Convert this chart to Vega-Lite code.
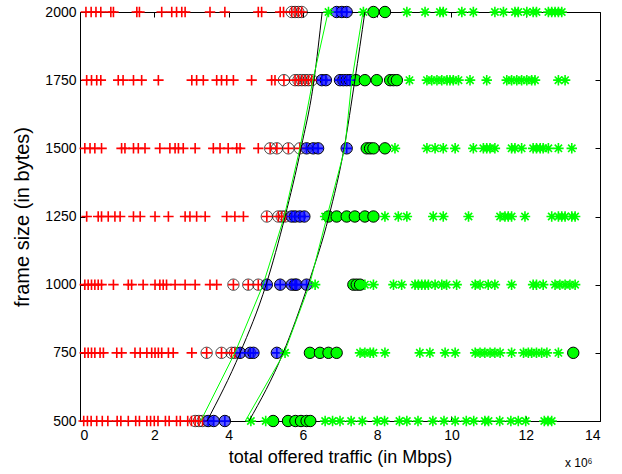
{
"$schema":"https://vega.github.io/schema/vega-lite/v6.json",
"width":520,"height":409,
"autosize":{"type":"none"},
"padding":{"left":80,"top":12,"right":22,"bottom":53},
"background":"white",
"config":{"view":{"stroke":"black","strokeWidth":1},"font":"Liberation Sans"},
"title":{"text":"x 10⁶","orient":"bottom","anchor":"end","offset":-8,"dx":-8,"fontSize":12,"fontWeight":"normal","font":"Liberation Sans","color":"black"},
"datasets":{
"pts":[
{"y":2000,"c":"red","x":0.16},{"y":2000,"c":"red","x":0.30},{"y":2000,"c":"red","x":0.43},{"y":2000,"c":"red","x":0.56},{"y":2000,"c":"red","x":0.83},{"y":2000,"c":"red","x":0.90},{"y":2000,"c":"red","x":1.53},{"y":2000,"c":"red","x":1.60},{"y":2000,"c":"red","x":2.20},{"y":2000,"c":"red","x":2.47},{"y":2000,"c":"red","x":2.60},{"y":2000,"c":"red","x":2.74},{"y":2000,"c":"red","x":2.83},{"y":2000,"c":"red","x":3.50},{"y":2000,"c":"red","x":3.90},{"y":2000,"c":"red","x":4.80},{"y":2000,"c":"red","x":4.89},{"y":2000,"c":"red","x":5.39},{"y":2000,"c":"red","x":5.48},
{"y":2000,"c":"redc","x":5.70},{"y":2000,"c":"redc","x":5.79},{"y":2000,"c":"redc","x":5.88},{"y":2000,"c":"redc","x":5.97},
{"y":2000,"c":"blue","x":6.91},{"y":2000,"c":"blue","x":7.05},{"y":2000,"c":"blue","x":7.18},
{"y":2000,"c":"greenc","x":7.90},{"y":2000,"c":"greenc","x":8.21},
{"y":2000,"c":"green","x":6.69},{"y":2000,"c":"green","x":7.63},{"y":2000,"c":"green","x":8.80},{"y":2000,"c":"green","x":9.29},{"y":2000,"c":"green","x":9.69},{"y":2000,"c":"green","x":9.78},{"y":2000,"c":"green","x":10.28},{"y":2000,"c":"green","x":10.59},{"y":2000,"c":"green","x":11.17},{"y":2000,"c":"green","x":11.40},{"y":2000,"c":"green","x":11.71},{"y":2000,"c":"green","x":11.80},{"y":2000,"c":"green","x":12.03},{"y":2000,"c":"green","x":12.20},{"y":2000,"c":"green","x":12.29},{"y":2000,"c":"green","x":12.61},{"y":2000,"c":"green","x":12.70},{"y":2000,"c":"green","x":12.79},{"y":2000,"c":"green","x":12.88},{"y":2000,"c":"green","x":12.97},

{"y":1750,"c":"red","x":0.18},{"y":1750,"c":"red","x":0.31},{"y":1750,"c":"red","x":0.45},{"y":1750,"c":"red","x":0.56},{"y":1750,"c":"red","x":1.03},{"y":1750,"c":"red","x":1.16},{"y":1750,"c":"red","x":1.44},{"y":1750,"c":"red","x":1.66},{"y":1750,"c":"red","x":2.11},{"y":1750,"c":"red","x":3.01},{"y":1750,"c":"red","x":3.14},{"y":1750,"c":"red","x":3.32},{"y":1750,"c":"red","x":3.68},{"y":1750,"c":"red","x":3.81},{"y":1750,"c":"red","x":3.95},{"y":1750,"c":"red","x":4.13},{"y":1750,"c":"red","x":4.62},{"y":1750,"c":"red","x":5.16},{"y":1750,"c":"red","x":5.25},
{"y":1750,"c":"redc","x":5.49},{"y":1750,"c":"redc","x":5.79},{"y":1750,"c":"redc","x":5.88},{"y":1750,"c":"redc","x":5.97},{"y":1750,"c":"redc","x":6.06},{"y":1750,"c":"redc","x":6.15},{"y":1750,"c":"redc","x":6.24},
{"y":1750,"c":"blue","x":6.51},{"y":1750,"c":"blue","x":6.62},{"y":1750,"c":"blue","x":7.00},{"y":1750,"c":"blue","x":7.09},{"y":1750,"c":"blue","x":7.18},{"y":1750,"c":"blue","x":7.27},
{"y":1750,"c":"greenc","x":7.43},{"y":1750,"c":"greenc","x":7.67},{"y":1750,"c":"greenc","x":7.99},{"y":1750,"c":"greenc","x":8.35},{"y":1750,"c":"greenc","x":8.44},{"y":1750,"c":"greenc","x":8.53},
{"y":1750,"c":"green","x":8.87},{"y":1750,"c":"green","x":9.34},{"y":1750,"c":"green","x":9.47},{"y":1750,"c":"green","x":9.61},{"y":1750,"c":"green","x":9.74},{"y":1750,"c":"green","x":9.88},{"y":1750,"c":"green","x":9.96},{"y":1750,"c":"green","x":10.05},{"y":1750,"c":"green","x":10.19},{"y":1750,"c":"green","x":10.50},{"y":1750,"c":"green","x":10.95},{"y":1750,"c":"green","x":11.49},{"y":1750,"c":"green","x":11.62},{"y":1750,"c":"green","x":11.76},{"y":1750,"c":"green","x":11.89},{"y":1750,"c":"green","x":12.03},{"y":1750,"c":"green","x":12.16},{"y":1750,"c":"green","x":12.25},{"y":1750,"c":"green","x":12.88},{"y":1750,"c":"green","x":13.06},

{"y":1500,"c":"red","x":0.13},{"y":1500,"c":"red","x":0.27},{"y":1500,"c":"red","x":0.40},{"y":1500,"c":"red","x":0.58},{"y":1500,"c":"red","x":1.12},{"y":1500,"c":"red","x":1.21},{"y":1500,"c":"red","x":1.44},{"y":1500,"c":"red","x":1.57},{"y":1500,"c":"red","x":1.75},{"y":1500,"c":"red","x":2.15},{"y":1500,"c":"red","x":2.42},{"y":1500,"c":"red","x":2.56},{"y":1500,"c":"red","x":2.65},{"y":1500,"c":"red","x":2.78},{"y":1500,"c":"red","x":3.10},{"y":1500,"c":"red","x":3.59},{"y":1500,"c":"red","x":3.77},{"y":1500,"c":"red","x":3.99},{"y":1500,"c":"red","x":4.22},{"y":1500,"c":"red","x":4.31},{"y":1500,"c":"red","x":4.80},
{"y":1500,"c":"redc","x":5.12},{"y":1500,"c":"redc","x":5.30},{"y":1500,"c":"redc","x":5.61},{"y":1500,"c":"redc","x":5.92},
{"y":1500,"c":"blue","x":6.10},{"y":1500,"c":"blue","x":6.28},{"y":1500,"c":"blue","x":6.41},{"y":1500,"c":"blue","x":7.18},
{"y":1500,"c":"greenc","x":7.72},{"y":1500,"c":"greenc","x":7.81},{"y":1500,"c":"greenc","x":7.90},{"y":1500,"c":"greenc","x":8.21},
{"y":1500,"c":"green","x":8.48},{"y":1500,"c":"green","x":9.34},{"y":1500,"c":"green","x":9.56},{"y":1500,"c":"green","x":9.78},{"y":1500,"c":"green","x":10.10},{"y":1500,"c":"green","x":10.59},{"y":1500,"c":"green","x":10.86},{"y":1500,"c":"green","x":10.95},{"y":1500,"c":"green","x":11.04},{"y":1500,"c":"green","x":11.17},{"y":1500,"c":"green","x":11.62},{"y":1500,"c":"green","x":11.71},{"y":1500,"c":"green","x":11.89},{"y":1500,"c":"green","x":12.20},{"y":1500,"c":"green","x":12.29},{"y":1500,"c":"green","x":12.39},{"y":1500,"c":"green","x":12.47},{"y":1500,"c":"green","x":12.61},{"y":1500,"c":"green","x":12.88},{"y":1500,"c":"green","x":13.24},

{"y":1250,"c":"red","x":0.18},{"y":1250,"c":"red","x":0.49},{"y":1250,"c":"red","x":0.58},{"y":1250,"c":"red","x":0.76},{"y":1250,"c":"red","x":0.94},{"y":1250,"c":"red","x":1.08},{"y":1250,"c":"red","x":1.44},{"y":1250,"c":"red","x":1.62},{"y":1250,"c":"red","x":2.02},{"y":1250,"c":"red","x":2.38},{"y":1250,"c":"red","x":2.83},{"y":1250,"c":"red","x":2.96},{"y":1250,"c":"red","x":3.14},{"y":1250,"c":"red","x":3.37},{"y":1250,"c":"red","x":3.95},{"y":1250,"c":"red","x":4.17},{"y":1250,"c":"red","x":4.40},
{"y":1250,"c":"redc","x":5.03},{"y":1250,"c":"redc","x":5.34},{"y":1250,"c":"redc","x":5.43},{"y":1250,"c":"redc","x":5.52},
{"y":1250,"c":"blue","x":5.70},{"y":1250,"c":"blue","x":5.79},{"y":1250,"c":"blue","x":5.92},{"y":1250,"c":"blue","x":6.04},
{"y":1250,"c":"greenc","x":6.69},{"y":1250,"c":"greenc","x":6.91},{"y":1250,"c":"greenc","x":7.18},{"y":1250,"c":"greenc","x":7.40},{"y":1250,"c":"greenc","x":7.67},{"y":1250,"c":"greenc","x":7.90},
{"y":1250,"c":"green","x":6.60},{"y":1250,"c":"green","x":8.21},{"y":1250,"c":"green","x":8.57},{"y":1250,"c":"green","x":8.80},{"y":1250,"c":"green","x":9.51},{"y":1250,"c":"green","x":9.78},{"y":1250,"c":"green","x":10.46},{"y":1250,"c":"green","x":11.31},{"y":1250,"c":"green","x":11.44},{"y":1250,"c":"green","x":11.53},{"y":1250,"c":"green","x":11.62},{"y":1250,"c":"green","x":11.98},{"y":1250,"c":"green","x":12.70},{"y":1250,"c":"green","x":12.88},{"y":1250,"c":"green","x":12.97},{"y":1250,"c":"green","x":13.06},{"y":1250,"c":"green","x":13.24},{"y":1250,"c":"green","x":13.33},

{"y":1000,"c":"red","x":0.13},{"y":1000,"c":"red","x":0.22},{"y":1000,"c":"red","x":0.31},{"y":1000,"c":"red","x":0.40},{"y":1000,"c":"red","x":0.49},{"y":1000,"c":"red","x":0.58},{"y":1000,"c":"red","x":0.90},{"y":1000,"c":"red","x":1.30},{"y":1000,"c":"red","x":1.39},{"y":1000,"c":"red","x":1.70},{"y":1000,"c":"red","x":2.02},{"y":1000,"c":"red","x":2.15},{"y":1000,"c":"red","x":2.24},{"y":1000,"c":"red","x":2.33},{"y":1000,"c":"red","x":2.56},{"y":1000,"c":"red","x":2.83},{"y":1000,"c":"red","x":3.10},{"y":1000,"c":"red","x":3.50},{"y":1000,"c":"red","x":3.68},
{"y":1000,"c":"redc","x":4.13},{"y":1000,"c":"redc","x":4.53},{"y":1000,"c":"redc","x":4.80},
{"y":1000,"c":"blue","x":5.03},{"y":1000,"c":"blue","x":5.39},{"y":1000,"c":"blue","x":5.70},{"y":1000,"c":"blue","x":5.79},{"y":1000,"c":"blue","x":5.83},{"y":1000,"c":"blue","x":6.10},
{"y":1000,"c":"greenc","x":7.36},{"y":1000,"c":"greenc","x":7.45},{"y":1000,"c":"greenc","x":7.54},
{"y":1000,"c":"green","x":6.33},{"y":1000,"c":"green","x":7.67},{"y":1000,"c":"green","x":7.90},{"y":1000,"c":"green","x":8.44},{"y":1000,"c":"green","x":8.66},{"y":1000,"c":"green","x":9.02},{"y":1000,"c":"green","x":9.11},{"y":1000,"c":"green","x":9.20},{"y":1000,"c":"green","x":9.29},{"y":1000,"c":"green","x":9.38},{"y":1000,"c":"green","x":9.56},{"y":1000,"c":"green","x":9.74},{"y":1000,"c":"green","x":9.87},{"y":1000,"c":"green","x":10.14},{"y":1000,"c":"green","x":10.64},{"y":1000,"c":"green","x":10.77},{"y":1000,"c":"green","x":10.99},{"y":1000,"c":"green","x":11.17},{"y":1000,"c":"green","x":11.62},{"y":1000,"c":"green","x":12.20},{"y":1000,"c":"green","x":12.29},{"y":1000,"c":"green","x":12.47},{"y":1000,"c":"green","x":12.79},{"y":1000,"c":"green","x":12.92},{"y":1000,"c":"green","x":13.06},{"y":1000,"c":"green","x":13.19},{"y":1000,"c":"green","x":13.33},

{"y":750,"c":"red","x":0.13},{"y":750,"c":"red","x":0.22},{"y":750,"c":"red","x":0.31},{"y":750,"c":"red","x":0.40},{"y":750,"c":"red","x":0.54},{"y":750,"c":"red","x":0.63},{"y":750,"c":"red","x":0.99},{"y":750,"c":"red","x":1.12},{"y":750,"c":"red","x":1.48},{"y":750,"c":"red","x":1.62},{"y":750,"c":"red","x":1.80},{"y":750,"c":"red","x":1.93},{"y":750,"c":"red","x":2.02},{"y":750,"c":"red","x":2.11},{"y":750,"c":"red","x":2.20},{"y":750,"c":"red","x":2.38},{"y":750,"c":"red","x":2.51},{"y":750,"c":"red","x":3.01},
{"y":750,"c":"redc","x":3.41},{"y":750,"c":"redc","x":3.81},{"y":750,"c":"redc","x":4.08},{"y":750,"c":"redc","x":4.17},
{"y":750,"c":"blue","x":4.31},{"y":750,"c":"blue","x":4.58},{"y":750,"c":"blue","x":4.67},{"y":750,"c":"blue","x":5.30},
{"y":750,"c":"greenc","x":6.19},{"y":750,"c":"greenc","x":6.46},{"y":750,"c":"greenc","x":6.69},{"y":750,"c":"greenc","x":6.91},{"y":750,"c":"greenc","x":13.28},
{"y":750,"c":"green","x":5.52},{"y":750,"c":"green","x":7.54},{"y":750,"c":"green","x":7.67},{"y":750,"c":"green","x":7.81},{"y":750,"c":"green","x":7.90},{"y":750,"c":"green","x":8.21},{"y":750,"c":"green","x":9.15},{"y":750,"c":"green","x":9.42},{"y":750,"c":"green","x":9.83},{"y":750,"c":"green","x":10.10},{"y":750,"c":"green","x":10.64},{"y":750,"c":"green","x":10.77},{"y":750,"c":"green","x":10.90},{"y":750,"c":"green","x":11.04},{"y":750,"c":"green","x":11.17},{"y":750,"c":"green","x":11.31},{"y":750,"c":"green","x":11.62},{"y":750,"c":"green","x":11.94},{"y":750,"c":"green","x":12.07},{"y":750,"c":"green","x":12.16},{"y":750,"c":"green","x":12.29},{"y":750,"c":"green","x":12.43},{"y":750,"c":"green","x":12.57},{"y":750,"c":"green","x":12.88},

{"y":500,"c":"red","x":0.10},{"y":500,"c":"red","x":0.20},{"y":500,"c":"red","x":0.30},{"y":500,"c":"red","x":0.45},{"y":500,"c":"red","x":0.60},{"y":500,"c":"red","x":0.75},{"y":500,"c":"red","x":1.00},{"y":500,"c":"red","x":1.10},{"y":500,"c":"red","x":1.30},{"y":500,"c":"red","x":1.50},{"y":500,"c":"red","x":1.60},{"y":500,"c":"red","x":1.80},{"y":500,"c":"red","x":1.90},{"y":500,"c":"red","x":2.00},{"y":500,"c":"red","x":2.10},{"y":500,"c":"red","x":2.30},{"y":500,"c":"red","x":2.40},{"y":500,"c":"red","x":2.60},{"y":500,"c":"red","x":2.70},{"y":500,"c":"red","x":2.90},{"y":500,"c":"red","x":3.00},
{"y":500,"c":"redc","x":3.10},{"y":500,"c":"redc","x":3.20},{"y":500,"c":"redc","x":3.30},
{"y":500,"c":"blue","x":3.45},{"y":500,"c":"blue","x":3.60},{"y":500,"c":"blue","x":3.90},
{"y":500,"c":"greenc","x":5.20},{"y":500,"c":"greenc","x":5.60},{"y":500,"c":"greenc","x":5.80},{"y":500,"c":"greenc","x":5.95},{"y":500,"c":"greenc","x":6.10},{"y":500,"c":"greenc","x":6.20},
{"y":500,"c":"green","x":4.60},{"y":500,"c":"green","x":5.00},{"y":500,"c":"green","x":6.60},{"y":500,"c":"green","x":6.80},{"y":500,"c":"green","x":7.00},{"y":500,"c":"green","x":7.30},{"y":500,"c":"green","x":7.60},{"y":500,"c":"green","x":8.00},{"y":500,"c":"green","x":8.20},{"y":500,"c":"green","x":8.60},{"y":500,"c":"green","x":8.80},{"y":500,"c":"green","x":9.10},{"y":500,"c":"green","x":9.50},{"y":500,"c":"green","x":9.80},{"y":500,"c":"green","x":10.10},{"y":500,"c":"green","x":10.40},{"y":500,"c":"green","x":10.60},{"y":500,"c":"green","x":10.90},{"y":500,"c":"green","x":11.00},{"y":500,"c":"green","x":11.30},{"y":500,"c":"green","x":11.60},{"y":500,"c":"green","x":11.80},{"y":500,"c":"green","x":12.00},{"y":500,"c":"green","x":12.50},{"y":500,"c":"green","x":12.60},{"y":500,"c":"green","x":12.70}
],
"curves":[
{"fit":"black","side":"L","y":500,"x":3.42},{"fit":"black","side":"L","y":750,"x":4.31},{"fit":"black","side":"L","y":1000,"x":5.01},{"fit":"black","side":"L","y":1250,"x":5.52},{"fit":"black","side":"L","y":1500,"x":5.95},{"fit":"black","side":"L","y":1750,"x":6.30},{"fit":"black","side":"L","y":2000,"x":6.52},
{"fit":"black","side":"R","y":500,"x":4.55},{"fit":"black","side":"R","y":750,"x":5.47},{"fit":"black","side":"R","y":1000,"x":6.14},{"fit":"black","side":"R","y":1250,"x":6.70},{"fit":"black","side":"R","y":1500,"x":7.11},{"fit":"black","side":"R","y":1750,"x":7.40},{"fit":"black","side":"R","y":2000,"x":7.67},
{"fit":"green","side":"L","y":500,"x":3.25},{"fit":"green","side":"L","y":750,"x":4.17},{"fit":"green","side":"L","y":1000,"x":4.93},{"fit":"green","side":"L","y":1250,"x":5.50},{"fit":"green","side":"L","y":1500,"x":5.92},{"fit":"green","side":"L","y":1750,"x":6.27},{"fit":"green","side":"L","y":2000,"x":6.68},
{"fit":"green","side":"R","y":500,"x":4.45},{"fit":"green","side":"R","y":750,"x":5.50},{"fit":"green","side":"R","y":1000,"x":6.18},{"fit":"green","side":"R","y":1250,"x":6.65},{"fit":"green","side":"R","y":1500,"x":7.13},{"fit":"green","side":"R","y":1750,"x":7.32},{"fit":"green","side":"R","y":2000,"x":7.62}
]
},
"resolve":{"axis":{"x":"independent","y":"independent"}},
"layer":[
{"data":{"name":"pts"},"transform":[{"filter":"datum.c==='redc'"}],
 "mark":{"type":"point","shape":"circle","size":130,"filled":false,"stroke":"black","strokeWidth":1,"clip":false},
 "encoding":{
  "x":{"field":"x","type":"quantitative","scale":{"domain":[0,14],"nice":false,"zero":false},
   "axis":{"orient":"bottom","values":[0,2,4,6,8,10,12,14],"format":"d","tickSize":-5,"tickColor":"black","domainColor":"black","labelPadding":12,"labelFontSize":14,"labelColor":"black","labelFont":"Liberation Sans","grid":false,"title":"total offered traffic (in Mbps)","titleFontSize":18,"titleFontWeight":"normal","titleFont":"Liberation Sans","titleColor":"black","titlePadding":6}},
  "y":{"field":"y","type":"quantitative","scale":{"domain":[500,2000],"nice":false,"zero":false},
   "axis":{"orient":"left","values":[500,750,1000,1250,1500,1750,2000],"format":"d","tickSize":-5,"tickColor":"black","domainColor":"black","labelPadding":9,"labelFontSize":14,"labelColor":"black","labelFont":"Liberation Sans","grid":false,"title":"frame size (in bytes)","titleFontSize":20,"titleFontWeight":"normal","titleFont":"Liberation Sans","titleColor":"black","titlePadding":12}}
 }},
{"data":{"name":"pts"},"transform":[{"filter":"datum.c==='blue'"}],
 "mark":{"type":"point","shape":"circle","size":130,"filled":true,"fill":"#2a2aff","fillOpacity":0.75,"stroke":"black","strokeWidth":1,"clip":false},
 "encoding":{"x":{"field":"x","type":"quantitative","axis":null},"y":{"field":"y","type":"quantitative","axis":null}}},
{"data":{"name":"pts"},"transform":[{"filter":"datum.c==='greenc'"}],
 "mark":{"type":"point","shape":"circle","size":130,"filled":true,"fill":"#00ff00","fillOpacity":1,"stroke":"black","strokeWidth":1,"clip":false},
 "encoding":{"x":{"field":"x","type":"quantitative","axis":null},"y":{"field":"y","type":"quantitative","axis":null}}},
{"data":{"name":"pts"},"transform":[{"filter":"datum.c==='red' || datum.c==='redc'"}],
 "mark":{"type":"point","shape":"M-1,0H1M0,-1V1","size":110,"filled":false,"stroke":"#ff0000","strokeWidth":1.6,"opacity":1,"clip":false},
 "encoding":{"x":{"field":"x","type":"quantitative","axis":null},"y":{"field":"y","type":"quantitative","axis":null}}},
{"data":{"name":"pts"},"transform":[{"filter":"datum.c==='blue'"}],
 "mark":{"type":"point","shape":"M-1,0H1M0,-1V1","size":110,"filled":false,"stroke":"#0000ff","strokeWidth":1.6,"opacity":1,"clip":false},
 "encoding":{"x":{"field":"x","type":"quantitative","axis":null},"y":{"field":"y","type":"quantitative","axis":null}}},
{"data":{"name":"pts"},"transform":[{"filter":"datum.c==='green'"}],
 "mark":{"type":"point","shape":"M-1,0H1M0,-1V1M-0.7,-0.7L0.7,0.7M-0.7,0.7L0.7,-0.7","size":110,"filled":false,"stroke":"#00ff00","strokeWidth":1.6,"opacity":1,"clip":false},
 "encoding":{"x":{"field":"x","type":"quantitative","axis":null},"y":{"field":"y","type":"quantitative","axis":null}}},
{"data":{"name":"curves"},"transform":[{"filter":"datum.fit==='black'"}],
 "mark":{"type":"line","interpolate":"monotone","stroke":"black","strokeWidth":1,"clip":false},
 "encoding":{"x":{"field":"x","type":"quantitative","axis":null},"y":{"field":"y","type":"quantitative","axis":null},"detail":{"field":"side"}}},
{"data":{"name":"curves"},"transform":[{"filter":"datum.fit==='green'"}],
 "mark":{"type":"line","stroke":"#00ff00","strokeWidth":1,"clip":false},
 "encoding":{"x":{"field":"x","type":"quantitative",
   "axis":{"orient":"top","values":[0,2,4,6,8,10,12,14],"tickSize":-5,"tickColor":"black","domain":false,"labels":false,"title":null,"grid":false}},
  "y":{"field":"y","type":"quantitative",
   "axis":{"orient":"right","values":[500,750,1000,1250,1500,1750,2000],"tickSize":-5,"tickColor":"black","domain":false,"labels":false,"title":null,"grid":false}},
  "detail":{"field":"side"}}}
]
}
